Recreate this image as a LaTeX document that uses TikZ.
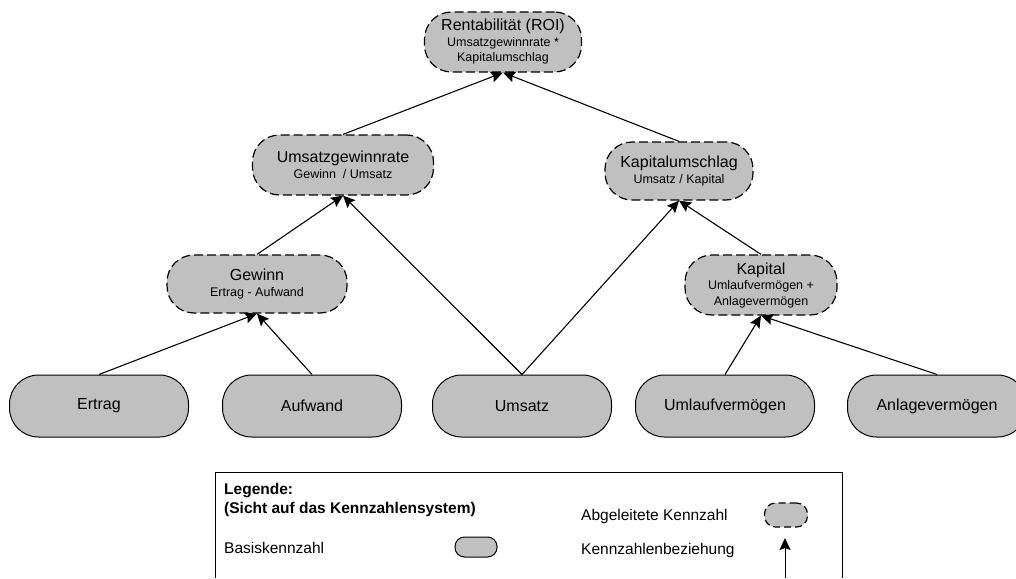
\documentclass[tikz,border=0pt]{standalone}
\usepackage{fontspec}
\setmainfont{Liberation Sans}
\usetikzlibrary{arrows.meta}
\definecolor{kzgray}{RGB}{192,192,192}
\newcommand\kzsub[1]{{\fontsize{12.5}{15}\selectfont #1}}

\begin{document}
\begin{tikzpicture}[x=1pt,y=-1pt,
  kzbase/.style={draw=black, line width=1pt, fill=kzgray, rounded corners=29pt,
    minimum width=179pt, minimum height=62pt, inner sep=0pt,
    font=\fontsize{16}{18}\selectfont},
  kzderived/.style={draw=black, line width=1.2pt, dash pattern=on 9pt off 4pt,
    fill=kzgray, rounded corners=27pt, inner sep=0pt, align=center,
    font=\fontsize{16}{15.5}\selectfont},
  rel/.style={-{Stealth[length=12pt,width=11pt,inset=2pt]}, line width=1.1pt},
  legtext/.style={anchor=base west, inner sep=0pt, font=\fontsize{15.5}{17}\selectfont},
  legbold/.style={legtext, font=\bfseries\fontsize{15.5}{17}\selectfont},
]
\useasboundingbox (0,0) rectangle (1016,578);
\clip (0,0) rectangle (1016,578);

% derived figures (dashed)
\node[kzderived, minimum width=157pt, minimum height=60pt] (roi) at (503,42)
  {Rentabilität (ROI)\\\kzsub{Umsatzgewinnrate *}\\\kzsub{Kapitalumschlag}};
\node[kzderived, minimum width=181pt, minimum height=60pt] (ugr) at (343,165)
  {Umsatzgewinnrate\\\kzsub{Gewinn\ \ / Umsatz}};
\node[kzderived, minimum width=148pt, minimum height=58pt] (kus) at (679,171)
  {Kapitalumschlag\\\kzsub{Umsatz / Kapital}};
\node[kzderived, minimum width=180pt, minimum height=58pt] (gew) at (257,284)
  {Gewinn\\\kzsub{Ertrag - Aufwand}};
\node[kzderived, minimum width=152pt, minimum height=60pt] (kap) at (761,285)
  {Kapital\\\kzsub{Umlaufvermögen +}\\\kzsub{Anlagevermögen}};

% base figures (solid)
\node[kzbase] (ert) at (99,406) {Ertrag};
\node[kzbase] (auf) at (312,406) {Aufwand};
\node[kzbase] (ums) at (522,406) {Umsatz};
\node[kzbase] (ulv) at (725,406) {Umlaufvermögen};
\node[kzbase] (alv) at (937,406) {Anlagevermögen};

% relations between figures
\draw[rel] (ert.north) -- (gew.south);
\draw[rel] (auf.north) -- (gew.south);
\draw[rel] (gew.north) -- (ugr.south);
\draw[rel] (ums.north) -- (ugr.south);
\draw[rel] (ums.north) -- (kus.south);
\draw[rel] (ulv.north) -- (kap.south);
\draw[rel] (alv.north) -- (kap.south);
\draw[rel] (kap.north) -- (kus.south);
\draw[rel] (ugr.north) -- (roi.south);
\draw[rel] (kus.north) -- (roi.south);

% legend frame (open at the bottom)
\draw[line width=1pt] (215,578) -- (215,472) -- (842,472) -- (842,578);

\node[legbold] (legtitle) at (224,494) {Legende:};
\node[legbold] (legview) at (224,513) {(Sicht auf das Kennzahlensystem)};
\node[legtext] (legderivedtxt) at (581,520) {Abgeleitete Kennzahl};
\node[kzderived, minimum width=43pt, minimum height=24pt, rounded corners=11pt,
  dash pattern=on 7pt off 4pt] (legderived) at (786,515) {};
\node[legtext] (legbasetxt) at (224,553) {Basiskennzahl};
\node[kzbase, minimum width=42pt, minimum height=20pt, rounded corners=9.5pt] (legbase) at (476,547) {};
\node[legtext] (legreltxt) at (581,554) {Kennzahlenbeziehung};

\coordinate (legarrowfoot) at (785,578);
\coordinate (legarrowtip) at (785,538);
\draw[rel, line width=1pt] (legarrowfoot) -- (legarrowtip);
\end{tikzpicture}
\end{document}
